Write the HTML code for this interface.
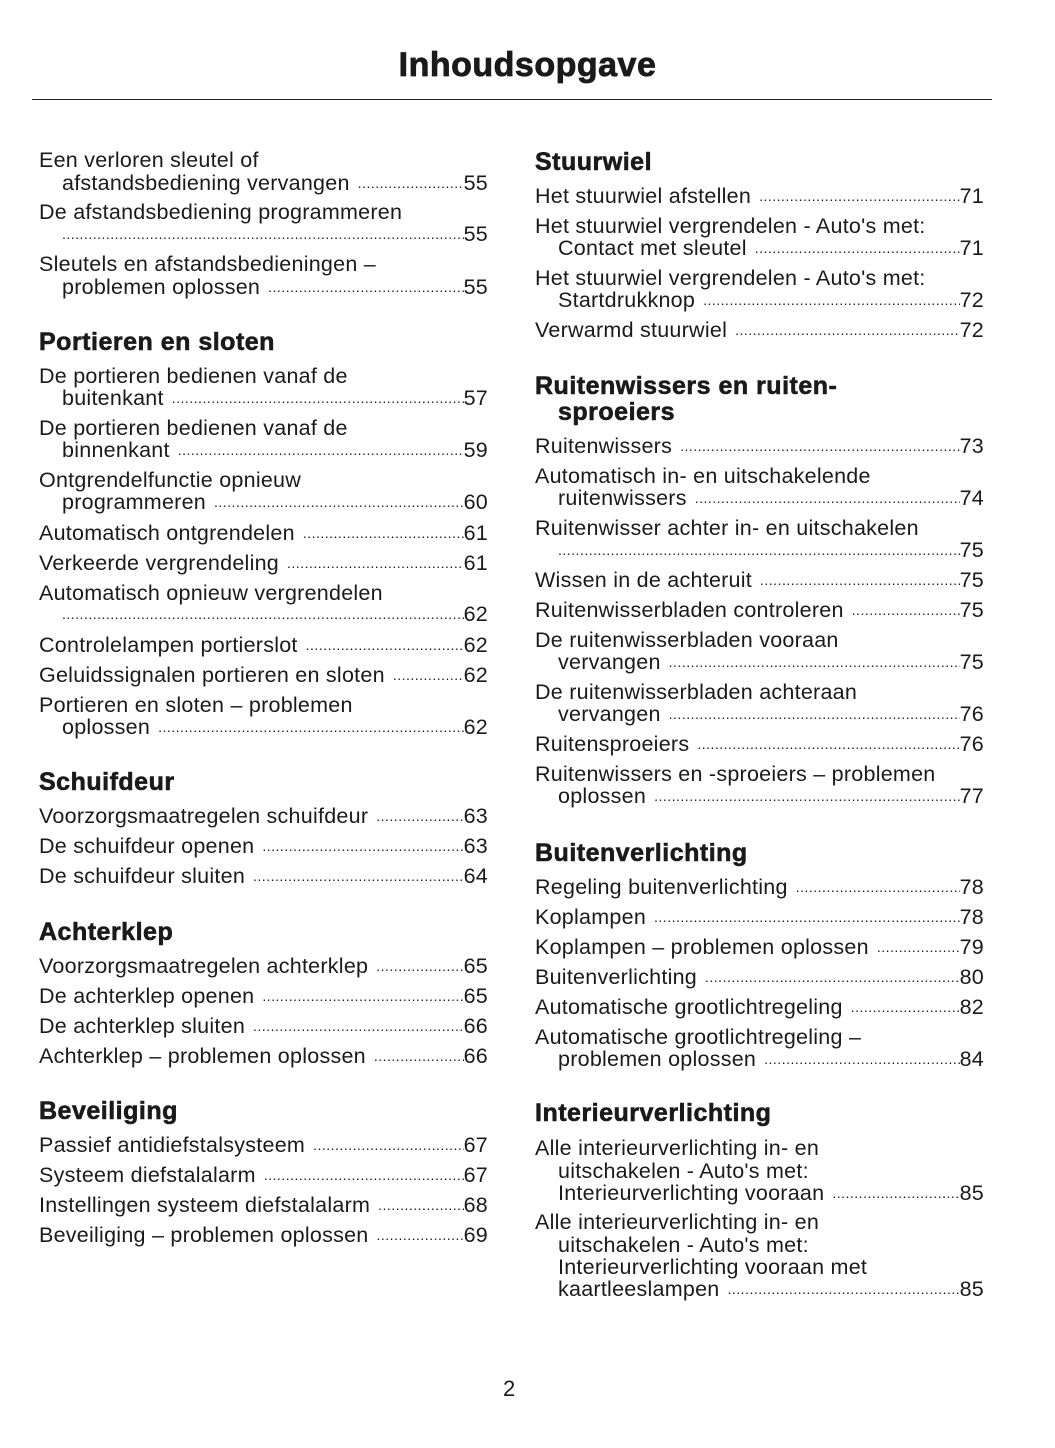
<!DOCTYPE html>
<html><head><meta charset="utf-8">
<style>
body{margin:0;background:#fff;}
#p{position:relative;width:1055px;height:1448px;background:#fff;color:#1a1a1a;font-family:"Liberation Sans",sans-serif;overflow:hidden}
.t{position:absolute;font-size:34px;font-weight:900;left:0;width:1055px;text-align:center;top:46px;letter-spacing:0.5px;-webkit-text-stroke:0.8px #1a1a1a}
.r{position:absolute;left:32px;top:99px;width:960px;height:1px;background:#222}
.l{position:absolute;box-sizing:border-box;height:26px;line-height:26px;font-size:21.5px;letter-spacing:0.25px;white-space:nowrap;display:flex}
.L{left:39px;width:449px}
.R{left:535px;width:449px}
.i{padding-left:23px}
.l .d{flex:1;overflow:hidden;font-size:14px;letter-spacing:0.5px;padding:0 2px 0 8px}
.h{position:absolute;font-size:25px;font-weight:bold;letter-spacing:0.5px;line-height:30px;white-space:nowrap;-webkit-text-stroke:0.6px #1a1a1a}
.pg{position:absolute;left:503px;top:1376px;font-size:22px}
</style></head><body><div id="p">
<div class="t">Inhoudsopgave</div>
<div class="r"></div>

<div class="l L" style="top:147px">Een verloren sleutel of</div>
<div class="l L i" style="top:170px"><span>afstandsbediening vervangen</span><span class="d">..................................................................................................</span><span class="n">55</span></div>
<div class="l L" style="top:199px">De afstandsbediening programmeren</div>
<div class="l L i" style="top:221px"><span class="d" style="padding-left:0">......................................................................................................................................</span><span class="n">55</span></div>
<div class="l L" style="top:251px">Sleutels en afstandsbedieningen –</div>
<div class="l L i" style="top:274px"><span>problemen oplossen</span><span class="d">..................................................................................................</span><span class="n">55</span></div>

<div class="h" style="left:39px;top:327px">Portieren en sloten</div>
<div class="l L" style="top:363px">De portieren bedienen vanaf de</div>
<div class="l L i" style="top:385px"><span>buitenkant</span><span class="d">.....................................................................................................................</span><span class="n">57</span></div>
<div class="l L" style="top:415px">De portieren bedienen vanaf de</div>
<div class="l L i" style="top:437px"><span>binnenkant</span><span class="d">.....................................................................................................................</span><span class="n">59</span></div>
<div class="l L" style="top:467px">Ontgrendelfunctie opnieuw</div>
<div class="l L i" style="top:489px"><span>programmeren</span><span class="d">.....................................................................................................................</span><span class="n">60</span></div>
<div class="l L" style="top:520px"><span>Automatisch ontgrendelen</span><span class="d">..................................................................................................</span><span class="n">61</span></div>
<div class="l L" style="top:550px"><span>Verkeerde vergrendeling</span><span class="d">..................................................................................................</span><span class="n">61</span></div>
<div class="l L" style="top:580px">Automatisch opnieuw vergrendelen</div>
<div class="l L i" style="top:601px"><span class="d" style="padding-left:0">......................................................................................................................................</span><span class="n">62</span></div>
<div class="l L" style="top:632px"><span>Controlelampen portierslot</span><span class="d">..................................................................................................</span><span class="n">62</span></div>
<div class="l L" style="top:662px"><span>Geluidssignalen portieren en sloten</span><span class="d">..................................................................................................</span><span class="n">62</span></div>
<div class="l L" style="top:692px">Portieren en sloten – problemen</div>
<div class="l L i" style="top:714px"><span>oplossen</span><span class="d">.....................................................................................................................</span><span class="n">62</span></div>

<div class="h" style="left:39px;top:767px">Schuifdeur</div>
<div class="l L" style="top:803px"><span>Voorzorgsmaatregelen schuifdeur</span><span class="d">..................................................................................................</span><span class="n">63</span></div>
<div class="l L" style="top:833px"><span>De schuifdeur openen</span><span class="d">..................................................................................................</span><span class="n">63</span></div>
<div class="l L" style="top:863px"><span>De schuifdeur sluiten</span><span class="d">..................................................................................................</span><span class="n">64</span></div>

<div class="h" style="left:39px;top:917px">Achterklep</div>
<div class="l L" style="top:953px"><span>Voorzorgsmaatregelen achterklep</span><span class="d">..................................................................................................</span><span class="n">65</span></div>
<div class="l L" style="top:983px"><span>De achterklep openen</span><span class="d">..................................................................................................</span><span class="n">65</span></div>
<div class="l L" style="top:1013px"><span>De achterklep sluiten</span><span class="d">..................................................................................................</span><span class="n">66</span></div>
<div class="l L" style="top:1043px"><span>Achterklep – problemen oplossen</span><span class="d">..................................................................................................</span><span class="n">66</span></div>

<div class="h" style="left:39px;top:1096px">Beveiliging</div>
<div class="l L" style="top:1132px"><span>Passief antidiefstalsysteem</span><span class="d">..................................................................................................</span><span class="n">67</span></div>
<div class="l L" style="top:1162px"><span>Systeem diefstalalarm</span><span class="d">..................................................................................................</span><span class="n">67</span></div>
<div class="l L" style="top:1192px"><span>Instellingen systeem diefstalalarm</span><span class="d">..................................................................................................</span><span class="n">68</span></div>
<div class="l L" style="top:1222px"><span>Beveiliging – problemen oplossen</span><span class="d">..................................................................................................</span><span class="n">69</span></div>

<div class="h" style="left:535px;top:147px">Stuurwiel</div>
<div class="l R" style="top:183px"><span>Het stuurwiel afstellen</span><span class="d">..................................................................................................</span><span class="n">71</span></div>
<div class="l R" style="top:213px">Het stuurwiel vergrendelen - Auto's met:</div>
<div class="l R i" style="top:235px"><span>Contact met sleutel</span><span class="d">..................................................................................................</span><span class="n">71</span></div>
<div class="l R" style="top:265px">Het stuurwiel vergrendelen - Auto's met:</div>
<div class="l R i" style="top:287px"><span>Startdrukknop</span><span class="d">..................................................................................................</span><span class="n">72</span></div>
<div class="l R" style="top:317px"><span>Verwarmd stuurwiel</span><span class="d">..................................................................................................</span><span class="n">72</span></div>

<div class="h" style="left:535px;top:371px">Ruitenwissers en ruiten-</div>
<div class="h" style="left:558px;top:397px">sproeiers</div>
<div class="l R" style="top:433px"><span>Ruitenwissers</span><span class="d">..................................................................................................</span><span class="n">73</span></div>
<div class="l R" style="top:463px">Automatisch in- en uitschakelende</div>
<div class="l R i" style="top:485px"><span>ruitenwissers</span><span class="d">..................................................................................................</span><span class="n">74</span></div>
<div class="l R" style="top:515px">Ruitenwisser achter in- en uitschakelen</div>
<div class="l R i" style="top:537px"><span class="d" style="padding-left:0">......................................................................................................................................</span><span class="n">75</span></div>
<div class="l R" style="top:567px"><span>Wissen in de achteruit</span><span class="d">..................................................................................................</span><span class="n">75</span></div>
<div class="l R" style="top:597px"><span>Ruitenwisserbladen controleren</span><span class="d">..................................................................................................</span><span class="n">75</span></div>
<div class="l R" style="top:627px">De ruitenwisserbladen vooraan</div>
<div class="l R i" style="top:649px"><span>vervangen</span><span class="d">..................................................................................................</span><span class="n">75</span></div>
<div class="l R" style="top:679px">De ruitenwisserbladen achteraan</div>
<div class="l R i" style="top:701px"><span>vervangen</span><span class="d">..................................................................................................</span><span class="n">76</span></div>
<div class="l R" style="top:731px"><span>Ruitensproeiers</span><span class="d">..................................................................................................</span><span class="n">76</span></div>
<div class="l R" style="top:761px">Ruitenwissers en -sproeiers – problemen</div>
<div class="l R i" style="top:783px"><span>oplossen</span><span class="d">..................................................................................................</span><span class="n">77</span></div>

<div class="h" style="left:535px;top:838px">Buitenverlichting</div>
<div class="l R" style="top:874px"><span>Regeling buitenverlichting</span><span class="d">..................................................................................................</span><span class="n">78</span></div>
<div class="l R" style="top:904px"><span>Koplampen</span><span class="d">..................................................................................................</span><span class="n">78</span></div>
<div class="l R" style="top:934px"><span>Koplampen – problemen oplossen</span><span class="d">..................................................................................................</span><span class="n">79</span></div>
<div class="l R" style="top:964px"><span>Buitenverlichting</span><span class="d">..................................................................................................</span><span class="n">80</span></div>
<div class="l R" style="top:994px"><span>Automatische grootlichtregeling</span><span class="d">..................................................................................................</span><span class="n">82</span></div>
<div class="l R" style="top:1024px">Automatische grootlichtregeling –</div>
<div class="l R i" style="top:1046px"><span>problemen oplossen</span><span class="d">..................................................................................................</span><span class="n">84</span></div>

<div class="h" style="left:535px;top:1098px">Interieurverlichting</div>
<div class="l R" style="top:1135px">Alle interieurverlichting in- en</div>
<div class="l R i" style="top:1158px">uitschakelen - Auto's met:</div>
<div class="l R i" style="top:1180px"><span>Interieurverlichting vooraan</span><span class="d">..................................................................................................</span><span class="n">85</span></div>
<div class="l R" style="top:1209px">Alle interieurverlichting in- en</div>
<div class="l R i" style="top:1232px">uitschakelen - Auto's met:</div>
<div class="l R i" style="top:1254px">Interieurverlichting vooraan met</div>
<div class="l R i" style="top:1276px"><span>kaartleeslampen</span><span class="d">..................................................................................................</span><span class="n">85</span></div>

<div class="pg">2</div>
</div></body></html>
